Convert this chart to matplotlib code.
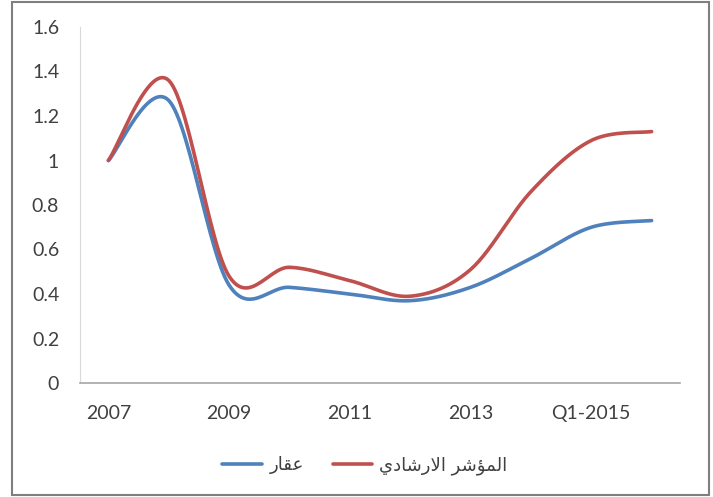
import numpy as np
import matplotlib.pyplot as plt
from matplotlib.patches import Rectangle

# الفئات على المحور الأفقي
categories = ['2007', '2008', '2009', '2010', '2011', '2012', '2013', '2014', 'Q1-2015', 'Q2-2015']
# عقار
aqar = [1.0, 1.27, 0.44, 0.43, 0.40, 0.37, 0.43, 0.56, 0.70, 0.73]
# المؤشر الارشادي
index_vals = [1.0, 1.36, 0.48, 0.52, 0.46, 0.39, 0.51, 0.86, 1.09, 1.13]

# Arabic labels written in shaped presentation forms, visual order (matplotlib has no shaping)
lbl_aqar = '\uFEAD\uFE8E\uFED8\uFECB'
lbl_index = ('\uFEF1\uFEA9\uFE8E\uFEB7\uFEAD\uFEFB\uFE8D' + ' ' +
             '\uFEAE\uFEB7\uFE86\uFEE4\uFEDF\uFE8D')

BLUE = '#4F81BD'
RED = '#C0504D'


def smooth(y, n=30):
    # Excel style smoothed line (Catmull-Rom / bezier)
    y = np.asarray(y, float)
    x = np.arange(len(y), dtype=float)
    P = np.column_stack([x, y])
    ext = np.vstack([P[0], P, P[-1]])
    xs, ys = [], []
    t = np.linspace(0, 1, n)[:, None]
    for i in range(len(P) - 1):
        p0, p1, p2, p3 = ext[i], ext[i + 1], ext[i + 2], ext[i + 3]
        c1 = p1 + (p2 - p0) / 6
        c2 = p2 - (p3 - p1) / 6
        b = ((1 - t) ** 3) * p1 + 3 * ((1 - t) ** 2) * t * c1 + 3 * (1 - t) * t ** 2 * c2 + t ** 3 * p2
        xs.append(b[:, 0])
        ys.append(b[:, 1])
    return np.concatenate(xs), np.concatenate(ys)


fig = plt.figure(figsize=(7.13, 4.97), dpi=100)
# إطار المخطط
fig.patches.append(Rectangle((12 / 713, 2 / 497), 697 / 713, 493 / 497, transform=fig.transFigure,
                             fill=False, edgecolor='#7f7f7f', linewidth=1.5))

ax = fig.add_axes([80 / 713, 1 - 383 / 497, 600 / 713, 356 / 497])

xb, yb = smooth(aqar)
xr, yr = smooth(index_vals)
ax.plot(xb, yb, color=BLUE, lw=2.6, label=lbl_aqar, solid_capstyle='round')
ax.plot(xr, yr, color=RED, lw=2.6, label=lbl_index, solid_capstyle='round')

ax.set_xlim(-0.47, len(categories) - 0.53)
ax.set_ylim(0, 1.6)
ax.set_yticks(np.arange(0, 1.61, 0.2))
ax.set_yticklabels(['0', '0.2', '0.4', '0.6', '0.8', '1', '1.2', '1.4', '1.6'])
ax.set_xticks(range(0, len(categories), 2))
ax.set_xticklabels(categories[::2])

for s in ['top', 'right']:
    ax.spines[s].set_visible(False)
ax.spines['left'].set_color('#d9d9d9')
ax.spines['bottom'].set_color('#a6a6a6')
ax.spines['bottom'].set_linewidth(1.2)
ax.tick_params(length=0, labelsize=14, colors='#404040')
ax.tick_params(axis='x', pad=16)
ax.tick_params(axis='y', pad=15)
for lab in ax.get_xticklabels() + ax.get_yticklabels():
    lab.set_family('Lato')

leg = ax.legend(loc='upper center', bbox_to_anchor=(0.475, -0.16), ncol=2, frameon=False,
                handlelength=2.2, columnspacing=1.6, handletextpad=0.4,
                prop={'family': ['DejaVu Sans'], 'size': 13})
for t in leg.get_texts():
    t.set_color('#404040')

fig.savefig('out.png', dpi=100)
